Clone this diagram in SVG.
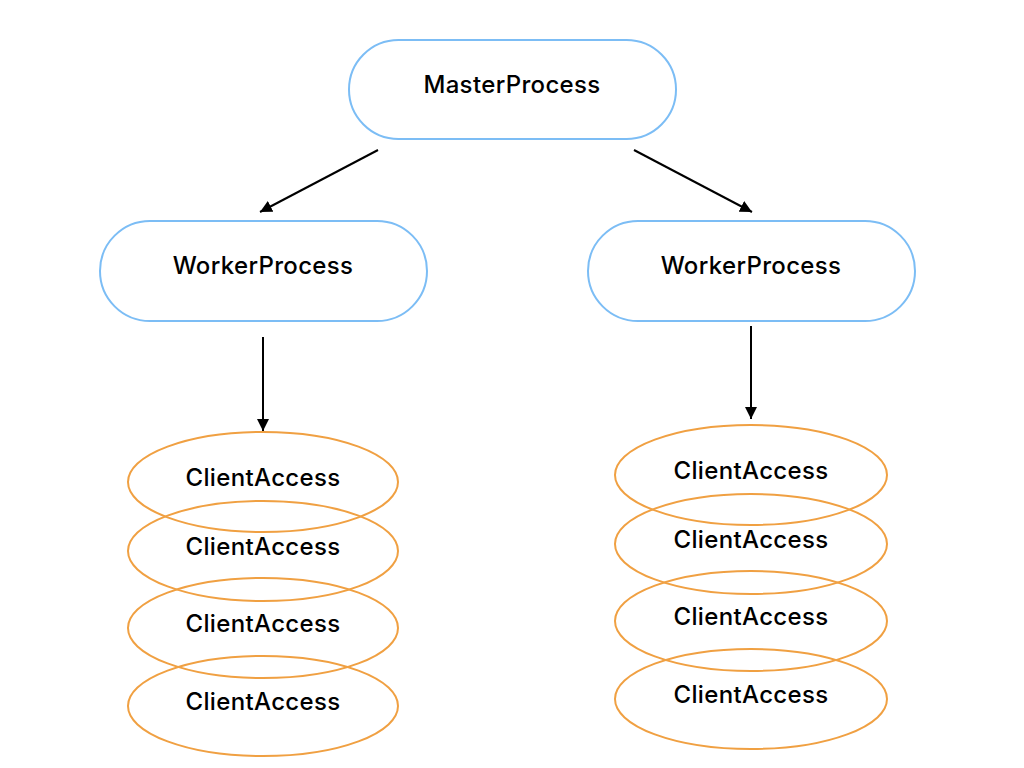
<svg xmlns="http://www.w3.org/2000/svg" width="1024" height="768" viewBox="0 0 1024 768">
<style>
.proc{fill:#fff;stroke:#7cbdf5;stroke-width:2}
.client{fill:none;stroke:#f0a042;stroke-width:2}
.lbl{font-family:Inter,"DejaVu Sans",sans-serif;font-size:24px;font-weight:500;letter-spacing:0.35px;fill:#000;text-anchor:middle}
.conn{stroke:#000;stroke-width:2;fill:none;marker-end:url(#arr)}
</style>
<defs>
<marker id="arr" viewBox="0 0 10 10" refX="10" refY="5" markerWidth="6" markerHeight="6" markerUnits="strokeWidth" orient="auto">
<path d="M0,0 L10,5 L0,10 z" fill="#000"/>
</marker>
</defs>
<rect width="1024" height="768" fill="#fff"/>
<g id="master"><rect class="proc" x="349" y="40" width="327" height="99" rx="49.5"/><text class="lbl" x="512" y="93">MasterProcess</text></g>
<g id="worker-left"><rect class="proc" x="100" y="221" width="327" height="100" rx="50"/><text class="lbl" x="263" y="274">WorkerProcess</text></g>
<g id="worker-right"><rect class="proc" x="588" y="221" width="327" height="100" rx="50"/><text class="lbl" x="751" y="274">WorkerProcess</text></g>
<g id="clients-left">
<g id="cl1"><ellipse class="client" cx="263" cy="482" rx="135" ry="50"/><text class="lbl" x="263" y="486">ClientAccess</text></g>
<g id="cl2"><ellipse class="client" cx="263" cy="551" rx="135" ry="50"/><text class="lbl" x="263" y="555">ClientAccess</text></g>
<g id="cl3"><ellipse class="client" cx="263" cy="628" rx="135" ry="50"/><text class="lbl" x="263" y="632">ClientAccess</text></g>
<g id="cl4"><ellipse class="client" cx="263" cy="706" rx="135" ry="50"/><text class="lbl" x="263" y="710">ClientAccess</text></g>
</g>
<g id="clients-right">
<g id="cr1"><ellipse class="client" cx="751" cy="475" rx="136" ry="50"/><text class="lbl" x="751" y="479">ClientAccess</text></g>
<g id="cr2"><ellipse class="client" cx="751" cy="544" rx="136" ry="50"/><text class="lbl" x="751" y="548">ClientAccess</text></g>
<g id="cr3"><ellipse class="client" cx="751" cy="621" rx="136" ry="50"/><text class="lbl" x="751" y="625">ClientAccess</text></g>
<g id="cr4"><ellipse class="client" cx="751" cy="699" rx="136" ry="50"/><text class="lbl" x="751" y="703">ClientAccess</text></g>
</g>
<g id="connectors">
<line class="conn" x1="378" y1="150" x2="260" y2="212"/>
<line class="conn" x1="634" y1="150" x2="752" y2="212"/>
<line class="conn" x1="263" y1="337" x2="263" y2="431"/>
<line class="conn" x1="751" y1="326" x2="751" y2="419"/>
</g>
</svg>
